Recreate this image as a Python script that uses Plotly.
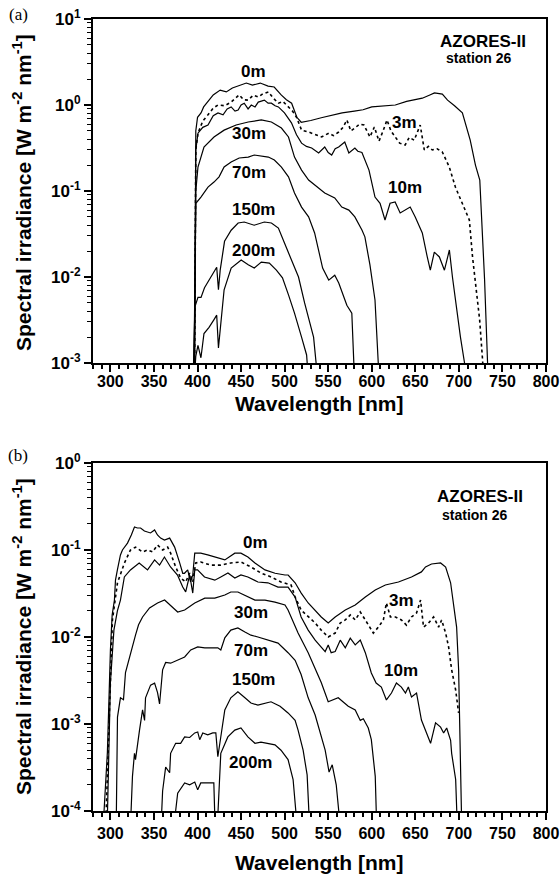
import plotly.graph_objects as go

# ---------------- Panel (a) data: wavelength [nm] / irradiance [W m-2 nm-1] ----------------
A_0M_WL = [396.5, 398, 400, 404, 407, 413, 418, 426, 433, 440, 448, 456, 463, 472, 481, 488, 496, 502, 508, 514,
           519, 530, 542, 555, 566, 580, 590, 600, 615, 627, 640, 650, 658, 666, 672, 681, 687, 695, 704, 713,
           719, 724, 729.5, 734]
A_0M_E = [0.0005, 0.5, 0.72, 0.81, 0.95, 1.14, 1.31, 1.49, 1.42, 1.58, 1.70, 1.80, 1.70, 1.80, 1.66, 1.62, 1.31, 1.15, 1.05, 0.72,
          0.63, 0.66, 0.71, 0.76, 0.81, 0.85, 0.88, 0.95, 0.98, 1.0, 1.1, 1.15, 1.2, 1.3, 1.38, 1.34, 1.14, 0.98, 0.81, 0.39,
          0.20, 0.134, 0.0093, 0.0005]

A_3M_WL = [396.5, 398, 400.5, 406, 412, 418, 423.5, 431, 438.6, 447.8, 453, 458, 464, 469.7, 475, 481.3, 487, 492.8, 498, 504.4,
           509, 513.6, 519.4, 527.5, 535, 542.5, 550.6, 556, 562, 567, 571.4, 576, 580.6, 586, 591, 597.9, 603, 608.3, 613, 617.5,
           622, 626.8, 632, 638.3, 643, 648.7, 655.6, 660.3, 665, 669.5, 675, 681, 689, 696, 704, 712, 715.7, 718, 721.5, 723.8,
           727.2, 729]
A_3M_E = [0.0005, 0.3, 0.47, 0.65, 0.77, 0.92, 1.0, 0.98, 1.08, 1.31, 1.15, 1.14, 1.3, 1.24, 1.35, 1.42, 1.2, 1.05, 1.1, 0.95,
          0.85, 0.72, 0.51, 0.485, 0.45, 0.425, 0.47, 0.44, 0.485, 0.55, 0.67, 0.5, 0.54, 0.6, 0.585, 0.425, 0.555, 0.38, 0.5, 0.67,
          0.5, 0.425, 0.36, 0.343, 0.42, 0.39, 0.585, 0.30, 0.33, 0.30, 0.31, 0.284, 0.19, 0.111, 0.072, 0.046, 0.017, 0.011, 0.005, 0.0032,
          0.00108, 0.0005]

A_10M_WL = [396.5, 398, 400.5, 406, 412, 418, 423.5, 429.3, 434, 438.6, 443, 446.6, 450, 453.6, 458, 461.7, 466, 469.7, 476.7, 481,
            484.8, 489, 492.8, 499.8, 507.8, 513.6, 519.4, 525, 531, 539, 546, 550, 554, 558, 562, 569, 573.7, 580.6, 584, 588.7,
            596.8, 603.7, 609.5, 615.2, 621, 626.8, 632.6, 638.3, 644.1, 649.9, 658, 663.7, 667.2, 671.8, 677.6, 683.4, 689.1, 692.6, 696, 701.8,
            706.5, 708]
A_10M_E = [0.0005, 0.3, 0.47, 0.55, 0.585, 0.75, 0.81, 0.77, 0.9, 0.95, 0.85, 0.875, 1.0, 1.05, 0.9, 1.0, 0.95, 1.08, 1.14, 1.05,
           1.05, 0.98, 0.95, 0.81, 0.62, 0.45, 0.36, 0.33, 0.316, 0.277, 0.325, 0.28, 0.262, 0.31, 0.325, 0.372, 0.277, 0.316, 0.29, 0.28,
           0.175, 0.085, 0.072, 0.046, 0.072, 0.0745, 0.0555, 0.060, 0.065, 0.050, 0.0325, 0.0171, 0.012, 0.0195, 0.0171, 0.012, 0.0206, 0.010, 0.0054, 0.002,
           0.001, 0.0005]

A_30M_WL = [396, 398, 400.5, 407.4, 418.9, 430.5, 444.3, 458.2, 473.2, 484.8, 496.3, 504.4, 511.3, 519.4, 527.5, 539, 546, 557.5, 565.6, 573.7,
            580.6, 588.7, 592.1, 597.9, 603.7, 609]
A_30M_E = [0.0005, 0.1, 0.19, 0.325, 0.425, 0.51, 0.585, 0.634, 0.67, 0.634, 0.54, 0.425, 0.248, 0.175, 0.134, 0.108, 0.095, 0.083, 0.065, 0.060,
           0.050, 0.0352, 0.0293, 0.0138, 0.0054, 0.0005]

A_70M_WL = [395.5, 397.5, 398.1, 403.9, 412, 418.9, 424.7, 430.5, 438.6, 447.8, 458.2, 465.1, 473.2, 481.3, 488.2, 496.3, 504.4, 511.3, 519.4, 527.5,
            534.4, 543.6, 550.6, 557.5, 562.1, 567.9, 571.4, 577.1, 580.6]
A_70M_E = [0.0005, 0.04, 0.072, 0.085, 0.111, 0.127, 0.146, 0.19, 0.217, 0.242, 0.248, 0.262, 0.255, 0.248, 0.229, 0.19, 0.146, 0.095, 0.065, 0.050,
           0.0325, 0.0127, 0.0092, 0.0105, 0.0085, 0.0058, 0.0047, 0.0038, 0.0005]

A_150M_WL = [394.7, 397, 400.5, 404, 408, 413, 418, 422, 424, 426, 431, 438.6, 446.6, 453.6, 465, 476.7, 484.8, 492.8, 499.8, 507.8,
             515.9, 522.9, 533.2, 539]
A_150M_E = [0.0005, 0.0045, 0.0058, 0.0058, 0.0075, 0.0092, 0.011, 0.013, 0.0071, 0.012, 0.026, 0.035, 0.0425, 0.0436, 0.040, 0.0436, 0.0425, 0.037, 0.0248, 0.0158,
            0.010, 0.005, 0.002, 0.0005]

A_200M_WL = [395.5, 398, 400.5, 403.9, 407.4, 413.2, 418.9, 422, 424, 426, 430.5, 438.6, 450.1, 458.2, 465.1, 473.2, 482.4, 490.5, 497.5, 504.4,
             511.3, 519.4, 525.2, 528]
A_200M_E = [0.0005, 0.0012, 0.0016, 0.00115, 0.0022, 0.0026, 0.0032, 0.0036, 0.0015, 0.0024, 0.0071, 0.0127, 0.0158, 0.0139, 0.0127, 0.0149, 0.0145, 0.012, 0.0098, 0.0062,
            0.0038, 0.002, 0.00124, 0.0005]

# ---------------- Panel (b) data ----------------
B_0M_WL = [291, 296.5, 300, 302, 304.6, 305.8, 308, 311.5, 313.8, 319.6, 324, 327.6, 331, 334.6, 339, 342.6, 346, 350.7, 354, 357.6,
           362, 368, 373.7, 379.5, 383, 385, 388.7, 392, 394.5, 396.8, 403.7, 411.7, 419.8, 431.3, 442.8, 449.8, 457.8, 465.9, 477.4, 489,
           500.4, 504, 512, 519, 527, 535, 542, 550, 558, 569.6, 581, 592.6, 604, 615.6, 630.6, 645.6, 657, 661.7, 668.6, 679,
           684.8, 690.5, 694, 697.4, 699.7, 702, 703.5]
B_0M_E = [5e-5, 4.7e-4, 0.0071, 0.018, 0.0266, 0.045, 0.059, 0.0877, 0.10, 0.12, 0.149, 0.184, 0.179, 0.179, 0.165, 0.161, 0.157, 0.17, 0.149, 0.137,
          0.130, 0.137, 0.108, 0.071, 0.054, 0.054, 0.059, 0.043, 0.0516, 0.092, 0.092, 0.088, 0.083, 0.077, 0.092, 0.092, 0.083, 0.071, 0.059, 0.054,
          0.0516, 0.0516, 0.042, 0.032, 0.0246, 0.0204, 0.017, 0.0145, 0.017, 0.0204, 0.0233, 0.0288, 0.0347, 0.0396, 0.0429, 0.049, 0.056, 0.0638, 0.069, 0.071,
          0.0638, 0.042, 0.0246, 0.013, 0.0042, 4.6e-4, 5e-5]

B_3M_WL = [294.2, 302.3, 308.1, 316.1, 323, 328.8, 336.9, 342.6, 348.4, 354.1, 359.9, 365.7, 369.1, 374.9, 380.6, 386.4, 391, 394.5, 397.9, 403.7,
           415.2, 426.7, 438.2, 449.8, 461.3, 472.8, 484.3, 495.8, 507.4, 512, 518.9, 527, 535, 542, 550, 558, 563.8, 569.6, 575.3, 581,
           586.8, 592.6, 601.8, 607.6, 613.3, 616.8, 621.4, 627.2, 634, 639.8, 645.6, 651.4, 656, 659.4, 665.2, 671, 676.7, 680.2, 684.8, 688.2,
           691.7, 696.3, 699.7]
B_3M_E = [5e-5, 0.0157, 0.042, 0.071, 0.10, 0.108, 0.095, 0.10, 0.095, 0.114, 0.10, 0.108, 0.092, 0.0638, 0.0477, 0.0429, 0.0544, 0.0429, 0.071, 0.0728,
          0.067, 0.067, 0.071, 0.0728, 0.0638, 0.0544, 0.049, 0.0429, 0.0396, 0.0288, 0.0204, 0.017, 0.0145, 0.012, 0.010, 0.0111, 0.0145, 0.0157, 0.0179, 0.0157,
          0.0194, 0.0157, 0.0111, 0.013, 0.0157, 0.0246, 0.017, 0.017, 0.0157, 0.0137, 0.017, 0.0189, 0.0266, 0.013, 0.0145, 0.017, 0.013, 0.0157, 0.0111, 0.0077,
          0.0042, 0.00246, 0.00134]

B_10M_WL = [296, 300, 304, 308, 311.5, 316, 323, 333, 342.6, 350.7, 356.4, 362, 369, 377, 383, 386.4, 391, 394.5, 396.8, 400,
            408, 419.8, 426.7, 434.9, 442.8, 449.8, 457.8, 469.3, 480.8, 492.3, 503.9, 512, 518.9, 527, 535, 542, 546.5, 550, 553.4, 558,
            563.8, 569.6, 575.3, 581, 586.8, 592.6, 599.5, 605, 611, 616.8, 622.6, 628.3, 634, 638.7, 642, 645.6, 651.4, 657, 663, 667.5,
            673.2, 679, 682.5, 686, 690.5, 691.7, 696.3, 698.6]
B_10M_E = [5e-5, 0.003, 0.012, 0.02, 0.0266, 0.049, 0.059, 0.071, 0.059, 0.077, 0.067, 0.083, 0.0638, 0.0516, 0.0375, 0.033, 0.0516, 0.032, 0.059, 0.059,
           0.049, 0.045, 0.049, 0.0544, 0.0477, 0.0516, 0.049, 0.0429, 0.042, 0.0375, 0.0375, 0.0288, 0.017, 0.012, 0.0092, 0.0077, 0.0068, 0.0081, 0.0066, 0.0068,
           0.0092, 0.0075, 0.0097, 0.0081, 0.0092, 0.0066, 0.00386, 0.00296, 0.00266, 0.00189, 0.00227, 0.00296, 0.00266, 0.00227, 0.00266, 0.00204, 0.00227, 0.00111, 0.00079, 0.0006,
           0.00103, 0.00092, 0.00079, 0.0009, 0.00065, 0.00046, 0.00023, 5e-5]

B_30M_WL = [306.5, 308.1, 311.5, 315, 317.3, 321.9, 325.3, 328.8, 332.3, 336.9, 344.9, 354.1, 362.2, 368, 377.2, 385.2, 396.8, 408.3, 419.8, 431.3,
            438.2, 446.3, 454.4, 465.9, 477.4, 488.9, 500.4, 503.9, 515.4, 527, 542, 550, 561.5, 573, 581, 586.8, 590.3, 596, 599.5, 604, 606]
B_30M_E = [5e-5, 0.0012, 0.0020, 0.0019, 0.0039, 0.0059, 0.0081, 0.0105, 0.0138, 0.017, 0.0216, 0.0246, 0.0266, 0.0233, 0.0194, 0.0204, 0.0246, 0.028, 0.028, 0.0304,
           0.0329, 0.0329, 0.0304, 0.0266, 0.0266, 0.0252, 0.0233, 0.0204, 0.0111, 0.0066, 0.0030, 0.0018, 0.0020, 0.0016, 0.00145, 0.0011, 0.00115, 0.0009, 0.00066, 0.00025, 5e-5]

B_70M_WL = [322.5, 325.3, 327.6, 328.8, 333.4, 336.9, 339.2, 340.3, 346.1, 350.7, 354.1, 356.4, 359.9, 363.4, 369.1, 377.2, 385.2, 392.2, 400.2, 408.3,
            415.2, 423.3, 426.7, 431.3, 438.2, 446.3, 454.4, 461.3, 469.3, 480.9, 492.4, 503.9, 512, 518.9, 527, 535, 542, 546.5, 551, 554.6,
            559.2, 565]
B_70M_E = [5e-5, 2.5e-4, 4.6e-4, 3.9e-4, 8.5e-4, 1.45e-3, 1.1e-3, 2.0e-3, 2.8e-3, 2.95e-3, 2.3e-3, 1.7e-3, 4.2e-3, 5.1e-3, 5.0e-3, 5.4e-3, 5.9e-3, 7.1e-3, 7.7e-3, 7.5e-3,
           7.5e-3, 7.5e-3, 7.1e-3, 9.8e-3, 0.012, 0.0127, 0.0114, 0.0105, 0.0100, 0.0092, 0.0085, 0.0066, 0.0054, 0.0037, 0.0020, 0.00127, 0.00075, 0.0005, 0.00028, 0.00034,
           0.0002, 5e-5]

B_150M_WL = [357.6, 359.9, 363.4, 368, 369.1, 374.9, 380.6, 385.2, 391, 396.8, 400.2, 402.5, 406, 411.7, 417.5, 421, 423.3, 426.7, 431.3, 438.2,
             446.3, 454.4, 461.3, 469.3, 477.4, 484.3, 494.7, 503.9, 512, 515.4, 521.2, 525.8, 529.2]
B_150M_E = [5e-5, 1.7e-4, 3.2e-4, 2.75e-4, 4.6e-4, 6.0e-4, 6.0e-4, 7.1e-4, 7.0e-4, 7.9e-4, 8.1e-4, 6.6e-4, 7.9e-4, 7.5e-4, 7.9e-4, 7.9e-4, 4.2e-4, 7.1e-4, 1.45e-3, 2.0e-3,
            2.34e-3, 2.0e-3, 1.74e-3, 1.65e-3, 1.74e-3, 1.8e-3, 1.6e-3, 1.34e-3, 1.1e-3, 8.5e-4, 5.0e-4, 2.6e-4, 5e-5]

B_200M_WL = [371.4, 377.2, 385.2, 391, 396.8, 400.2, 403.7, 411.7, 418.7, 420.5, 422.1, 426.7, 434.8, 442.8, 449.8, 457.8, 465.9, 472.8, 480.9, 488.9,
             495.8, 503.9, 509.7, 515.4]
B_200M_E = [5e-5, 1.6e-4, 2.1e-4, 2.0e-4, 2.15e-4, 1.75e-4, 2.1e-4, 2.1e-4, 2.1e-4, 5e-5, 5e-5, 4.6e-4, 7.1e-4, 8.5e-4, 9.0e-4, 7.1e-4, 6.0e-4, 6.2e-4, 6.0e-4, 5.75e-4,
            5.0e-4, 3.9e-4, 2.3e-4, 5e-5]

X_TICKS = [300, 350, 400, 450, 500, 550, 600, 650, 700, 750, 800]
A_Y_TICKS = [1e-3, 1e-2, 1e-1, 1e0, 1e1]
A_Y_TEXT = ["10<sup>-3</sup>", "10<sup>-2</sup>", "10<sup>-1</sup>", "10<sup>0</sup>", "10<sup>1</sup>"]
B_Y_TICKS = [1e-4, 1e-3, 1e-2, 1e-1, 1e0]
B_Y_TEXT = ["10<sup>-4</sup>", "10<sup>-3</sup>", "10<sup>-2</sup>", "10<sup>-1</sup>", "10<sup>0</sup>"]

FONT = "Liberation Sans, Arial, sans-serif"

fig = go.Figure()


def add(wl, e, xa, ya, dotted=False):
    fig.add_trace(go.Scatter(
        x=wl, y=e, mode="lines", xaxis=xa, yaxis=ya, showlegend=False, hoverinfo="skip",
        line=dict(color="black", width=1.6 if dotted else 1.2, dash="dot" if dotted else "solid")))


for wl, e, dt in [(A_0M_WL, A_0M_E, False), (A_3M_WL, A_3M_E, True), (A_10M_WL, A_10M_E, False),
                  (A_30M_WL, A_30M_E, False), (A_70M_WL, A_70M_E, False), (A_150M_WL, A_150M_E, False),
                  (A_200M_WL, A_200M_E, False)]:
    add(wl, e, "x", "y", dt)
for wl, e, dt in [(B_0M_WL, B_0M_E, False), (B_3M_WL, B_3M_E, True), (B_10M_WL, B_10M_E, False),
                  (B_30M_WL, B_30M_E, False), (B_70M_WL, B_70M_E, False), (B_150M_WL, B_150M_E, False),
                  (B_200M_WL, B_200M_E, False)]:
    add(wl, e, "x2", "y2", dt)

XDOM = [93 / 560, 546 / 560]
A_YDOM = [1 - 363 / 876, 1 - 19 / 876]
B_YDOM = [1 - 811 / 876, 1 - 463 / 876]

tickfont = dict(family=FONT, size=16, color="black", weight="bold")


def xaxis(anchor, standoff=0):
    return dict(domain=XDOM, anchor=anchor, range=[280, 800], tickmode="array", tickvals=X_TICKS,
                ticks="outside", ticklen=7, tickwidth=2, tickcolor="black", automargin=False,
                ticklabeloverflow="allow", ticklabelstandoff=standoff,
                showline=True, linewidth=2.2, linecolor="black", mirror=True,
                showgrid=False, zeroline=False, tickfont=tickfont,
                minor=dict(dtick=10, ticks="outside", ticklen=4, tickwidth=1.5, tickcolor="black", showgrid=False))


def yaxis(anchor, rng, tv, tt):
    minor_vals = [m * 10 ** e for e in range(rng[0], rng[1]) for m in range(2, 10)]
    return dict(domain=A_YDOM if anchor == "x" else B_YDOM, anchor=anchor, type="log", range=rng,
                tickmode="array", tickvals=tv, ticktext=tt, automargin=False,
                ticks="outside", ticklen=7, tickwidth=2, tickcolor="black",
                showline=True, linewidth=2.2, linecolor="black", mirror=True,
                showgrid=False, zeroline=False, tickfont=dict(tickfont, size=17),
                minor=dict(tickvals=minor_vals, ticks="outside", ticklen=4, tickwidth=1.2, tickcolor="black", showgrid=False))


ann = []


def label(text, x, y, xr, yr, size=17):
    ann.append(dict(text=text, x=x, y=y, xref=xr, yref=yr, showarrow=False,
                    font=dict(family=FONT, size=size, color="black", weight="bold")))


# panel (a) curve labels (x in nm, y in log10 units)
for t, x, y in [("0m", 464, 0.384), ("3m", 637, -0.198), ("10m", 638, -0.965), ("30m", 459, -0.326),
                ("70m", 459, -0.79), ("150m", 464, -1.22), ("200m", 464, -1.686)]:
    label(t, x, y, "x", "y")
label("AZORES-II", 728, 0.733, "x", "y", 17)
label("station 26", 723, 0.547, "x", "y", 14)
# panel (b)
for t, x, y in [("0m", 466, -0.908), ("3m", 634, -1.575), ("10m", 634, -2.38), ("30m", 461, -1.724),
                ("70m", 461, -2.15), ("150m", 464, -2.494), ("200m", 461, -3.448)]:
    label(t, x, y, "x2", "y2")
label("AZORES-II", 724, -0.39, "x2", "y2", 17)
label("station 26", 719, -0.598, "x2", "y2", 14)

ytitle = "Spectral irradiance [W m<sup>-2</sup> nm<sup>-1</sup>]"
for yc in [(1 - 193 / 876), (1 - 637 / 876)]:
    ann.append(dict(text=ytitle, x=22 / 560, y=yc, xref="paper", yref="paper", textangle=-90, showarrow=False,
                    xanchor="center", yanchor="middle",
                    font=dict(family=FONT, size=21, color="black", weight="bold")))
for yc in [1 - 403 / 876, 1 - 862 / 876]:
    ann.append(dict(text="Wavelength [nm]", x=319 / 560, y=yc, xref="paper", yref="paper", showarrow=False,
                    xanchor="center", yanchor="middle",
                    font=dict(family=FONT, size=21, color="black", weight="bold")))
for t, yc in [("(a)", 1 - 15 / 876), ("(b)", 1 - 455 / 876)]:
    ann.append(dict(text=t, x=18 / 560, y=yc, xref="paper", yref="paper", showarrow=False,
                    xanchor="center", yanchor="middle",
                    font=dict(family="Liberation Serif, Times New Roman, serif", size=17, color="black")))

fig.update_layout(
    width=560, height=876, margin=dict(l=0, r=0, t=0, b=0, autoexpand=False),
    paper_bgcolor="white", plot_bgcolor="white", showlegend=False,
    xaxis=xaxis("y", -4), yaxis=yaxis("x", [-3, 1], A_Y_TICKS, A_Y_TEXT),
    xaxis2=xaxis("y2"), yaxis2=yaxis("x2", [-4, 0], B_Y_TICKS, B_Y_TEXT),
    annotations=ann,
)

fig.write_html("out.html", config={"displayModeBar": False},
               post_script="document.body.style.margin='0px';")
